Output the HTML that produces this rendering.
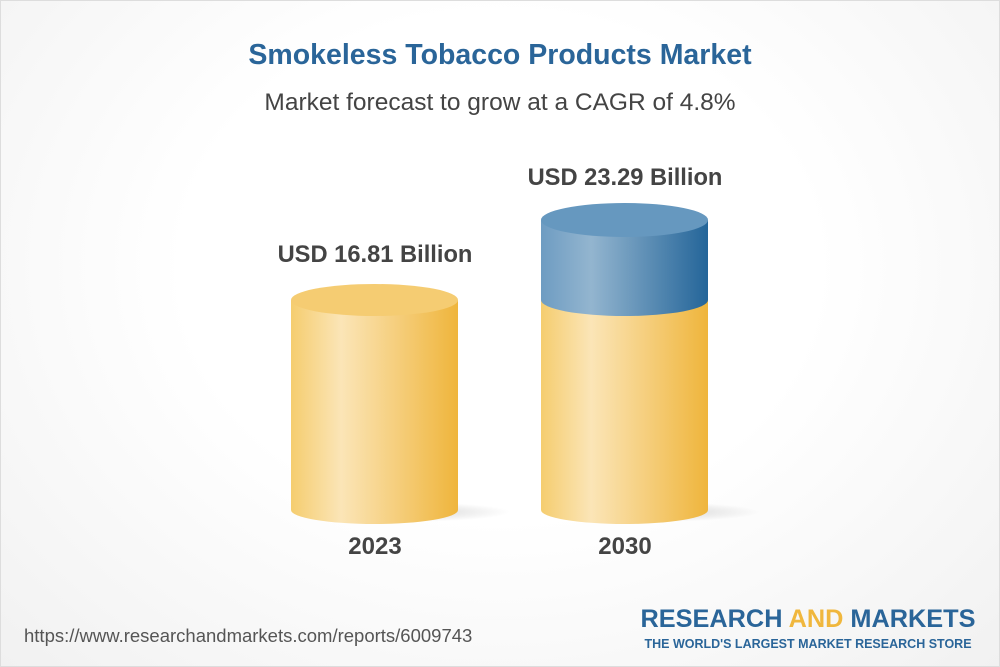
<!DOCTYPE html>
<html><head><meta charset="utf-8"><style>
body{margin:0;width:1000px;height:667px;overflow:hidden;font-family:"Liberation Sans",Arial,sans-serif;}
.bg{position:absolute;left:0;top:0;width:998px;height:665px;border:1px solid #ddd;background:radial-gradient(ellipse at 50% 40%,#fff 45%,#f1f1f1 100%);}
.t{position:absolute;width:1000px;text-align:center;white-space:nowrap;}
</style></head><body><div class="bg"></div>
<div class="t" style="top:39px;font-size:28.5px;font-weight:bold;color:#2a6599;">Smokeless Tobacco Products Market</div>
<div class="t" style="top:89px;font-size:24.5px;color:#444;">Market forecast to grow at a CAGR of 4.8%</div>
<svg width="1000" height="667" style="position:absolute;left:0;top:0">
<defs>
<linearGradient id="y" x1="0" x2="1"><stop offset="0" stop-color="#f5cd6f"/><stop offset="0.3" stop-color="#fbe5b7"/><stop offset="1" stop-color="#efb53c"/></linearGradient>
<linearGradient id="b" x1="0" x2="1"><stop offset="0" stop-color="#6e9cc2"/><stop offset="0.3" stop-color="#93b5cf"/><stop offset="1" stop-color="#246599"/></linearGradient>
<radialGradient id="s"><stop offset="0" stop-color="#000" stop-opacity="0.18"/><stop offset="1" stop-color="#000" stop-opacity="0"/></radialGradient>
</defs>
<ellipse cx="400" cy="512" rx="110" ry="10" fill="url(#s)"/>
<ellipse cx="650" cy="512" rx="110" ry="10" fill="url(#s)"/>
<path d="M291 300 V510 A83.5 14 0 0 0 458 510 V300 Z" fill="url(#y)"/>
<ellipse cx="374.5" cy="300" rx="83.5" ry="16" fill="#f5cc72"/>
<path d="M541 300 V510 A83.5 14 0 0 0 708 510 V300 Z" fill="url(#y)"/>
<path d="M541 220 V300 A83.5 16 0 0 0 708 300 V220 Z" fill="url(#b)"/>
<ellipse cx="624.5" cy="220" rx="83.5" ry="17" fill="#6698bf"/>
</svg>
<div class="t" style="left:-125px;top:242px;font-size:23.7px;font-weight:bold;color:#444;">USD 16.81 Billion</div>
<div class="t" style="left:125px;top:165px;font-size:23.7px;font-weight:bold;color:#444;">USD 23.29 Billion</div>
<div class="t" style="left:-125px;top:533px;font-size:24px;font-weight:bold;color:#444;">2023</div>
<div class="t" style="left:125px;top:533px;font-size:24px;font-weight:bold;color:#444;">2030</div>
<div style="position:absolute;left:24px;top:625px;font-size:18.5px;color:#555;white-space:nowrap;">https://www.researchandmarkets.com/reports/6009743</div>
<div style="position:absolute;left:600px;top:605px;width:416px;text-align:center;font-size:25.3px;font-weight:bold;color:#2a6599;white-space:nowrap;">RESEARCH <span style="color:#f0b73d">AND</span> MARKETS</div>
<div style="position:absolute;left:600px;top:637px;width:416px;text-align:center;font-size:12.5px;font-weight:bold;color:#2a6599;white-space:nowrap;">THE WORLD'S LARGEST MARKET RESEARCH STORE</div>
</body></html>
